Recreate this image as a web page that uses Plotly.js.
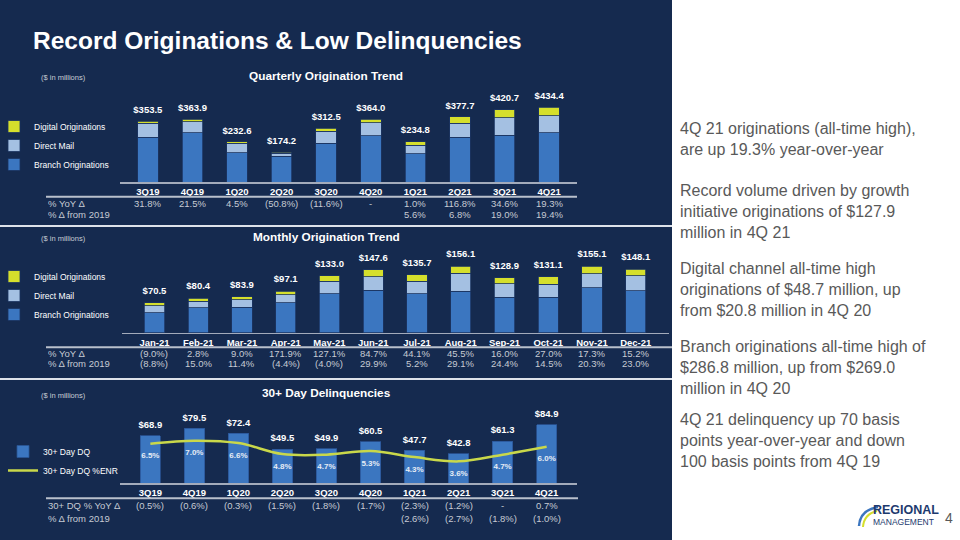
<!DOCTYPE html>
<html>
<head>
<meta charset="utf-8">
<script src="https://cdn.plot.ly/plotly-3.0.1.min.js"></script>
<style>html,body{margin:0;padding:0;background:#fff}#chart{width:960px;height:540px}</style>
</head>
<body>
<div id="chart"></div>
<script>
// ---------- DATA ----------
const quarters = ['3Q19','4Q19','1Q20','2Q20','3Q20','4Q20','1Q21','2Q21','3Q21','4Q21'];
const qBranch = [260.0, 285.0, 170.0, 150.0, 226.0, 269.0, 164.5, 261.0, 271.2, 286.8];
const qDirectMail = [80.0, 66.0, 54.0, 18.0, 70.0, 74.2, 49.5, 79.6, 103.5, 98.9];
const qDigital = [13.5, 12.9, 8.6, 6.2, 16.5, 20.8, 20.8, 37.1, 46.0, 48.7];
const qTotal = [353.5, 363.9, 232.6, 174.2, 312.5, 364.0, 234.8, 377.7, 420.7, 434.4];
const qYoY = ['31.8%','21.5%','4.5%','(50.8%)','(11.6%)','-','1.0%','116.8%','34.6%','19.3%'];
const qFrom2019 = ['','','','','','','5.6%','6.8%','19.0%','19.4%'];

const months = ['Jan-21','Feb-21','Mar-21','Apr-21','May-21','Jun-21','Jul-21','Aug-21','Sep-21','Oct-21','Nov-21','Dec-21'];
const mBranch = [47.0, 58.0, 59.5, 70.0, 91.0, 100.0, 91.2, 97.0, 83.0, 83.0, 105.0, 98.8];
const mDirectMail = [16.5, 15.5, 17.5, 18.6, 29.5, 31.5, 29.7, 42.7, 31.1, 31.0, 32.8, 35.0];
const mDigital = [7.0, 6.9, 6.9, 8.5, 12.5, 16.1, 14.8, 16.4, 14.8, 17.1, 17.3, 14.3];
const mTotal = [70.5, 80.4, 83.9, 97.1, 133.0, 147.6, 135.7, 156.1, 128.9, 131.1, 155.1, 148.1];
const mYoY = ['(9.0%)','2.8%','9.0%','171.9%','127.1%','84.7%','44.1%','45.5%','16.0%','27.0%','17.3%','15.2%'];
const mFrom2019 = ['(8.8%)','15.0%','11.4%','(4.4%)','(4.0%)','29.9%','5.2%','29.1%','24.4%','14.5%','20.3%','23.0%'];

const dqQuarters = ['3Q19','4Q19','1Q20','2Q20','3Q20','4Q20','1Q21','2Q21','3Q21','4Q21'];
const dqAmount = [68.9, 79.5, 72.4, 49.5, 49.9, 60.5, 47.7, 42.8, 61.3, 84.9];
const dqPctENR = [6.5, 7.0, 6.6, 4.8, 4.7, 5.3, 4.3, 3.6, 4.7, 6.0];
const dqYoY = ['(0.5%)','(0.6%)','(0.3%)','(1.5%)','(1.8%)','(1.7%)','(2.3%)','(1.2%)','-','0.7%'];
const dqFrom2019 = ['','','','','','','(2.6%)','(2.7%)','(1.8%)','(1.0%)'];

const seriesNames = ['Branch Originations','Direct Mail','Digital Originations'];
const dqNames = ['30+ Day DQ','30+ Day DQ %ENR'];

const bullets = [
  '4Q 21 originations (all-time high),<br>are up 19.3% year-over-year',
  'Record volume driven by growth<br>initiative originations of $127.9<br>million in 4Q 21',
  'Digital channel all-time high<br>originations of $48.7 million, up<br>from $20.8 million in 4Q 20',
  'Branch originations all-time high of<br>$286.8 million, up from $269.0<br>million in 4Q 20',
  '4Q 21 delinquency up 70 basis<br>points year-over-year and down<br>100 basis points from 4Q 19'
];

// ---------- STYLE ----------
const FONT = 'Liberation Sans, Arial, sans-serif';
const NAVY = '#152a4f';
const COL = {branch:'#3b76c0', dm:'#a4c0e2', digital:'#d5df2c', dq:'#3b76c0', line:'#c9d84a'};
const W = 960, H = 540;
const px = v => v / W;
const py = v => 1 - v / H;

function bar(xs, ys, name, color, xa, ya, lg) {
  return {type:'bar', x:xs, y:ys, name:name, marker:{color:color, line:{color:'#1b3461', width:0.8}},
          xaxis:xa, yaxis:ya, legend:lg, hoverinfo:'skip'};
}
function labels(xs, ys, xa, ya, tmpl, pos, msize, font) {
  return {type:'scatter', mode:'markers+text', x:xs, y:ys, xaxis:xa, yaxis:ya,
          marker:{size:msize, opacity:0}, texttemplate:tmpl, textposition:pos,
          textfont:font, showlegend:false, hoverinfo:'skip', cliponaxis:false};
}
const totalFont = {family:FONT, size:9.5, color:'#ffffff', weight:'bold'};

const traces = [
  bar(quarters, qBranch, seriesNames[0], COL.branch, 'x', 'y', 'legend'),
  bar(quarters, qDirectMail, seriesNames[1], COL.dm, 'x', 'y', 'legend'),
  bar(quarters, qDigital, seriesNames[2], COL.digital, 'x', 'y', 'legend'),
  labels(quarters, qTotal, 'x', 'y', '$%{y:.1f}', 'top center', 8, totalFont),

  bar(months, mBranch, seriesNames[0], COL.branch, 'x2', 'y2', 'legend2'),
  bar(months, mDirectMail, seriesNames[1], COL.dm, 'x2', 'y2', 'legend2'),
  bar(months, mDigital, seriesNames[2], COL.digital, 'x2', 'y2', 'legend2'),
  labels(months, mTotal, 'x2', 'y2', '$%{y:.1f}', 'top center', 9, totalFont),

  {type:'bar', x:dqQuarters, y:dqAmount, name:dqNames[0], xaxis:'x3', yaxis:'y3', legend:'legend3',
   marker:{color:COL.dq, line:{color:'#2a5596', width:0.8}}, hoverinfo:'skip'},
  {type:'scatter', mode:'lines', x:dqQuarters, y:dqPctENR, name:dqNames[1], xaxis:'x3', yaxis:'y4', legend:'legend3',
   line:{color:COL.line, width:2.5, shape:'spline'}, hoverinfo:'skip'},
  labels(dqQuarters, dqAmount, 'x3', 'y3', '$%{y:.1f}', 'top center', 7, totalFont),
  labels(dqQuarters, dqPctENR, 'x3', 'y4', '%{y:.1f}%', 'bottom center', 12,
         {family:FONT, size:8, color:'#e6ecf5', weight:'bold'})
];

function xax(d0, d1, anchor) {
  return {domain:[px(d0), px(d1)], anchor:anchor, type:'category', showline:true, linecolor:'#a3abbb',
          linewidth:1.5, ticks:'', showgrid:false, zeroline:false, fixedrange:true,
          tickfont:{family:FONT, size:9.5, color:'#ffffff', weight:'bold'}};
}
function yax(bot, top, max) {
  return {domain:[py(bot), py(top)], range:[0, max], visible:false, showgrid:false, zeroline:false, fixedrange:true};
}

const shapes = [
  {type:'rect', xref:'paper', yref:'paper', x0:0, x1:px(672), y0:0, y1:1, fillcolor:NAVY, line:{width:0}, layer:'below'},
  {type:'line', xref:'paper', yref:'paper', x0:0, x1:px(672), y0:py(226), y1:py(226), line:{color:'#dde2ea', width:2}},
  {type:'line', xref:'paper', yref:'paper', x0:0, x1:px(672), y0:py(379), y1:py(379), line:{color:'#dde2ea', width:2}},
  {type:'line', xref:'paper', yref:'paper', x0:px(46), x1:px(577), y0:py(196.7), y1:py(196.7), line:{color:'#b9c0cc', width:2}},
  {type:'line', xref:'paper', yref:'paper', x0:px(46), x1:px(672), y0:py(347.3), y1:py(347.3), line:{color:'#b9c0cc', width:2}},
  {type:'line', xref:'paper', yref:'paper', x0:px(46), x1:px(578), y0:py(498.3), y1:py(498.3), line:{color:'#b9c0cc', width:2}},
  // logo swoosh
  {type:'path', xref:'paper', yref:'paper',
   path:'M '+px(859)+','+py(526)+' Q '+px(860)+','+py(510)+' '+px(878)+','+py(507),
   line:{color:'#3c76bf', width:2.5}},
  {type:'path', xref:'paper', yref:'paper',
   path:'M '+px(863)+','+py(527)+' Q '+px(864)+','+py(514)+' '+px(877)+','+py(511),
   line:{color:'#d5df2c', width:2}}
];

const annotations = [];
function txt(x, y, text, font, xanchor, extra) {
  annotations.push(Object.assign({xref:'paper', yref:'paper', x:x, y:y, text:text, showarrow:false,
    xanchor:xanchor || 'left', yanchor:'middle', font:Object.assign({family:FONT}, font)}, extra || {}));
}
const WHITE_B = {color:'#ffffff', weight:'bold'};
txt(px(31), py(40), 'Record Originations & Low Delinquencies', Object.assign({size:24.5}, WHITE_B));
txt(px(326), py(76), 'Quarterly Origination Trend', Object.assign({size:11.8}, WHITE_B), 'center');
txt(px(326), py(237), 'Monthly Origination Trend', Object.assign({size:11.8}, WHITE_B), 'center');
txt(px(326), py(393), '30+ Day Delinquencies', Object.assign({size:11.8}, WHITE_B), 'center');
[78, 238.5, 395].forEach(v => txt(px(39), py(v), '($ in millions)', {size:7.5, color:'#c8cdd6'}));

const rowFont = {size:9.5, color:'#c6cbd4'};
function row(cats, vals, xa, yy) {
  cats.forEach((c, i) => {
    if (vals[i] === '') return;
    annotations.push({xref:xa, yref:'paper', x:c, y:py(yy), text:vals[i], showarrow:false,
      xanchor:'center', yanchor:'middle', font:Object.assign({family:FONT}, rowFont)});
  });
}
txt(px(46), py(203), '% YoY Δ', rowFont);
txt(px(46), py(214), '% Δ from 2019', rowFont);
row(quarters, qYoY, 'x', 203);
row(quarters, qFrom2019, 'x', 214);
txt(px(46), py(353), '% YoY Δ', rowFont);
txt(px(46), py(363.5), '% Δ from 2019', rowFont);
row(months, mYoY, 'x2', 353);
row(months, mFrom2019, 'x2', 363.5);
txt(px(46), py(505.7), '30+ DQ % YoY Δ', rowFont);
txt(px(46), py(518.3), '% Δ from 2019', rowFont);
row(dqQuarters, dqYoY, 'x3', 505.7);
row(dqQuarters, dqFrom2019, 'x3', 518.3);

const bulletY = [139, 211, 289, 367, 440];
bullets.forEach((b, i) => txt(px(678), py(bulletY[i]), b, {size:16, color:'#595959'}, 'left', {align:'left'}));

txt(px(871), py(510), 'REGIONAL', {size:12.5, color:'#1d3a6e', weight:'bold'});
txt(px(871), py(522), 'MANAGEMENT', {size:8.5, color:'#1d3a6e'});
txt(px(943), py(518), '4', {size:14, color:'#595959'});

const legendBase = {bgcolor:'rgba(0,0,0,0)', borderwidth:0, traceorder:'reversed',
                    font:{family:FONT, size:8.5, color:'#ffffff'}, xanchor:'left', yanchor:'top'};

const layout = {
  width:W, height:H, margin:{l:0, r:0, t:0, b:0, autoexpand:false},
  paper_bgcolor:'#ffffff', plot_bgcolor:'rgba(0,0,0,0)',
  font:{family:FONT},
  barmode:'stack', bargap:0.54, showlegend:true,
  xaxis:xax(120, 577, 'y'),
  yaxis:yax(182, 82, 581),
  xaxis2:xax(121.5, 668.7, 'y2'),
  yaxis2:yax(332.7, 252, 189),
  xaxis3:xax(120, 577, 'y3'),
  yaxis3:yax(483.3, 413, 101.9),
  yaxis4:{overlaying:'y3', anchor:'x3', range:[0, 11.54], visible:false, showgrid:false, zeroline:false, fixedrange:true},
  legend:Object.assign({}, legendBase, {x:px(-6), y:py(112)}),
  legend2:Object.assign({}, legendBase, {x:px(-6), y:py(262)}),
  legend3:Object.assign({}, legendBase, {x:px(3), y:py(437), traceorder:'normal'}),
  shapes:shapes,
  annotations:annotations
};

Plotly.newPlot('chart', traces, layout, {staticPlot:true, displayModeBar:false});
</script>
</body>
</html>
